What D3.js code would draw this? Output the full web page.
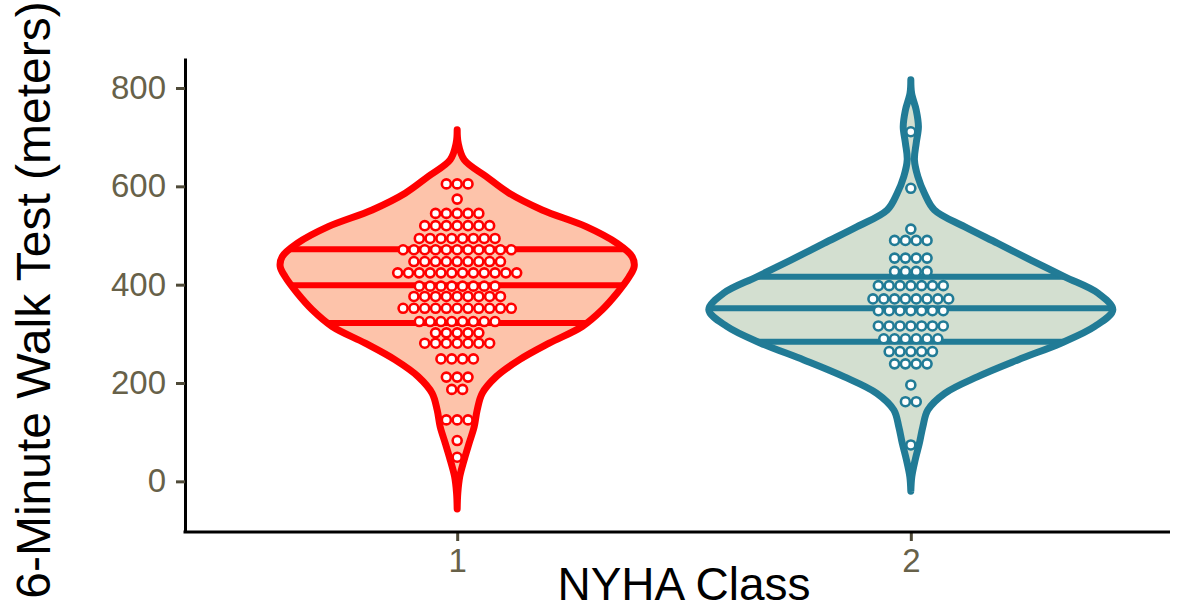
<!DOCTYPE html>
<html>
<head>
<meta charset="utf-8">
<script src="https://cdn.jsdelivr.net/npm/d3@7"></script>
<style>
  body { margin: 0; background: #fff; }
  svg text { font-family: "Liberation Sans", Arial, sans-serif; }
</style>
</head>
<body>
<svg id="chart" width="1200" height="613"></svg>
<script>
// categories and ticks
const classes = ["1", "2"];
const yTicks = [0, 200, 400, 600, 800];

// violin outlines: value (meters) and relative density
const violin1Values  = [715, 688, 654, 620, 586, 552, 518, 484, 457, 437, 416, 383, 349, 315, 281, 247, 213, 179, 145, 111, 78, 44, 10, -24, -56];
const violin1Density = [0, 0.005, 0.035, 0.145, 0.26, 0.425, 0.645, 0.8, 0.875, 0.885, 0.86, 0.8, 0.725, 0.625, 0.46, 0.31, 0.195, 0.125, 0.1, 0.085, 0.06, 0.035, 0.013, 0.003, 0];
const violin2Values  = [817, 789, 755, 721, 688, 654, 620, 586, 552, 518, 484, 450, 416, 383, 349, 315, 281, 247, 213, 179, 145, 111, 78, 44, 10, -20];
const violin2Density = [0, 0.004, 0.027, 0.038, 0.027, 0.018, 0.035, 0.068, 0.118, 0.268, 0.435, 0.6, 0.77, 0.935, 1.01, 0.92, 0.75, 0.535, 0.335, 0.17, 0.085, 0.06, 0.043, 0.022, 0.005, 0];

// quartile lines (25%, 50%, 75%)
const quant1 = [322, 399, 472];
const quant2 = [284, 352, 416];

// dotplot bins: bin centre and number of dots stacked
const dots1Values = [605, 574, 545, 520, 494, 471, 447, 424, 397, 376, 352, 325, 302, 281, 249, 212, 187, 125, 83, 49];
const dots1Counts = [3, 1, 5, 7, 8, 11, 9, 12, 8, 9, 11, 8, 5, 7, 4, 3, 2, 3, 1, 1];
const dots2Values = [711, 596, 513, 490, 454, 427, 398, 371, 347, 316, 290, 264, 239, 196, 162, 74];
const dots2Counts = [1, 1, 1, 4, 4, 4, 7, 8, 7, 7, 6, 5, 4, 1, 2, 1];

const binwidth = 22; // dot diameter in meters

const groups = [
  { cls: "1", vals: violin1Values, dens: violin1Density, q: quant1, dv: dots1Values, dc: dots1Counts,
    stroke: "#ff0000", fill: "#fdc3aa" },
  { cls: "2", vals: violin2Values, dens: violin2Density, q: quant2, dv: dots2Values, dc: dots2Counts,
    stroke: "#217b96", fill: "#d3dfd0" }
];

// layout
const margin = { top: 58, right: 17, bottom: 81, left: 185 };
const W = 1200, H = 613;
const plotRight = 1183;

const svg = d3.select("#chart");

const y = d3.scaleLinear().domain([-103, 861]).range([H - margin.bottom, margin.top]);
const x = d3.scalePoint().domain(classes).range([margin.left, plotRight]).padding(0.6);
const w = d3.scaleLinear().domain([0, 1]).range([0, 200]);

const dotD = y(0) - y(binwidth);

groups.forEach((g, gi) => {
  const cx = x(g.cls);
  const prof = g.vals.map((v, i) => ({ v: v, d: g.dens[i] }));

  const area = d3.area()
    .curve(d3.curveCatmullRom)
    .y(d => y(d.v))
    .x0(d => cx - w(d.d))
    .x1(d => cx + w(d.d));

  // clip so quartile lines stop at the violin edge
  svg.append("clipPath").attr("id", "clip" + gi)
    .append("path").attr("d", area(prof));

  svg.append("path")
    .attr("d", area(prof))
    .attr("fill", g.fill);

  svg.append("g").attr("clip-path", "url(#clip" + gi + ")")
    .selectAll("line").data(g.q).enter().append("line")
    .attr("x1", cx - 260).attr("x2", cx + 260)
    .attr("y1", d => y(d)).attr("y2", d => y(d))
    .attr("stroke", g.stroke)
    .attr("stroke-width", 6);

  svg.append("path")
    .attr("d", area(prof))
    .attr("fill", "none")
    .attr("stroke", g.stroke)
    .attr("stroke-width", 7)
    .attr("stroke-linejoin", "round");

  // dots, centred stacks
  const dots = [];
  g.dv.forEach((v, i) => {
    const n = g.dc[i];
    for (let k = 0; k < n; k++) dots.push({ v: v, off: k - (n - 1) / 2 });
  });
  svg.append("g").selectAll("circle").data(dots).enter().append("circle")
    .attr("cx", d => cx + d.off * dotD)
    .attr("cy", d => y(d.v))
    .attr("r", dotD / 2 - 0.9)
    .attr("fill", "#fff")
    .attr("stroke", g.stroke)
    .attr("stroke-width", 2.6);
});

// y axis
const yAxis = svg.append("g")
  .attr("transform", "translate(" + margin.left + ",0)")
  .call(d3.axisLeft(y).tickValues(yTicks).tickSize(9).tickSizeOuter(0).tickPadding(10));
yAxis.select(".domain").attr("stroke", "#000").attr("stroke-width", 3);
yAxis.selectAll(".tick line").attr("stroke", "#4f4a38").attr("stroke-width", 3);
yAxis.selectAll(".tick text")
  .attr("fill", "#676149")
  .style("font-size", "33px");

// x axis
const xAxis = svg.append("g")
  .attr("transform", "translate(0," + (H - margin.bottom) + ")")
  .call(d3.axisBottom(x).tickSize(9).tickSizeOuter(0).tickPadding(8));
xAxis.select(".domain").remove();
xAxis.append("line")
  .attr("x1", margin.left - 1.5).attr("x2", 1170)
  .attr("stroke", "#000").attr("stroke-width", 3);
xAxis.selectAll(".tick line").attr("stroke", "#4f4a38").attr("stroke-width", 3);
xAxis.selectAll(".tick text")
  .attr("fill", "#676149")
  .style("font-size", "33px");

// titles
svg.append("text")
  .attr("x", (margin.left + plotRight) / 2)
  .attr("y", 600)
  .attr("text-anchor", "middle")
  .style("font-size", "46px")
  .attr("fill", "#000")
  .text("NYHA Class");

svg.append("text")
  .attr("transform", "rotate(-90)")
  .attr("x", -300)
  .attr("y", 50)
  .attr("text-anchor", "middle")
  .style("font-size", "48px")
  .attr("fill", "#000")
  .text("6-Minute Walk Test (meters)");
</script>
</body>
</html>
